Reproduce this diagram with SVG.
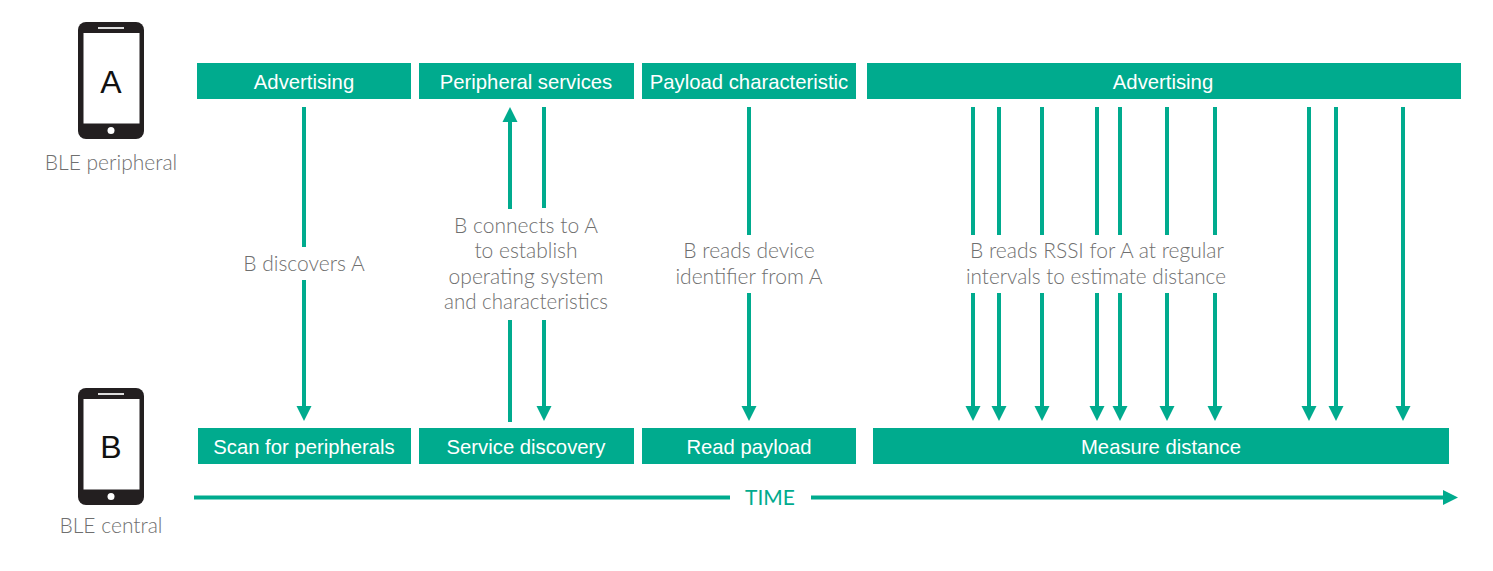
<svg xmlns="http://www.w3.org/2000/svg" width="1493" height="571" viewBox="0 0 1493 571">
<style>
.box{fill:#00ab8e}
.bt{font:20.300px "Liberation Sans",Arial,sans-serif;fill:#fff;text-anchor:middle}
.lb{font:300 21px Lato,"Open Sans",sans-serif;fill:#6f6f6f;text-anchor:middle}
.ln{stroke:#00ab8e;stroke-width:4;fill:none}
.dev{fill:#231f20}
.dt{font:32px "Liberation Sans",Arial,sans-serif;fill:#111;text-anchor:middle}
</style>
<defs>
<g id="phone">
<rect x="78" y="22" width="66" height="117" rx="8" class="dev"/>
<rect x="83.500" y="33" width="56" height="90.500" fill="#fff"/>
<rect x="98" y="27" width="26" height="2" fill="#ddd"/>
<circle cx="111" cy="130.500" r="3.500" fill="#fff"/>
</g>
<marker id="ah" markerUnits="userSpaceOnUse" markerWidth="17" markerHeight="17" refX="5" refY="8" orient="auto">
<path d="M0 0.500L15 8L0 15.500Z" fill="#00ab8e"/>
</marker>
</defs>
<g id="device-a"><use href="#phone"/><text class="dt" x="111" y="93">A</text><text class="lb" x="111" y="170">BLE peripheral</text></g>
<g id="device-b"><use href="#phone" y="366"/><text class="dt" x="111" y="458">B</text><text class="lb" x="111" y="533">BLE central</text></g>
<g id="a-advertising"><rect class="box" x="197" y="63" width="214" height="36"/><text class="bt" x="304" y="89">Advertising</text></g>
<g id="a-services"><rect class="box" x="419" y="63" width="215" height="36"/><text class="bt" x="526" y="89">Peripheral services</text></g>
<g id="a-payload"><rect class="box" x="642" y="63" width="214" height="36"/><text class="bt" x="749" y="89">Payload characteristic</text></g>
<g id="a-advertising2"><rect class="box" x="867" y="63" width="594" height="36"/><text class="bt" x="1163" y="89">Advertising</text></g>
<g id="b-scan"><rect class="box" x="198" y="428" width="213" height="36"/><text class="bt" x="304" y="454">Scan for peripherals</text></g>
<g id="b-discovery"><rect class="box" x="419" y="428" width="215" height="36"/><text class="bt" x="526" y="454">Service discovery</text></g>
<g id="b-read"><rect class="box" x="642" y="428" width="214" height="36"/><text class="bt" x="749" y="454">Read payload</text></g>
<g id="b-measure"><rect class="box" x="873" y="428" width="576" height="36"/><text class="bt" x="1161" y="454">Measure distance</text></g>
<g id="connectors">
<path class="ln" d="M304 107V247"/><path class="ln" d="M304 280V411" marker-end="url(#ah)"/>
<path class="ln" d="M510 422V320"/><path class="ln" d="M510 209V117" marker-end="url(#ah)"/>
<path class="ln" d="M544 107V208"/><path class="ln" d="M544 320V411" marker-end="url(#ah)"/>
<path class="ln" d="M749 107V235"/><path class="ln" d="M749 293V411" marker-end="url(#ah)"/>
<path class="ln" d="M973 107V235"/><path class="ln" d="M973 293V411" marker-end="url(#ah)"/>
<path class="ln" d="M999 107V235"/><path class="ln" d="M999 293V411" marker-end="url(#ah)"/>
<path class="ln" d="M1042 107V235"/><path class="ln" d="M1042 293V411" marker-end="url(#ah)"/>
<path class="ln" d="M1097 107V235"/><path class="ln" d="M1097 293V411" marker-end="url(#ah)"/>
<path class="ln" d="M1120 107V235"/><path class="ln" d="M1120 293V411" marker-end="url(#ah)"/>
<path class="ln" d="M1167 107V235"/><path class="ln" d="M1167 293V411" marker-end="url(#ah)"/>
<path class="ln" d="M1215 107V235"/><path class="ln" d="M1215 293V411" marker-end="url(#ah)"/>
<path class="ln" d="M1309 107V411" marker-end="url(#ah)"/>
<path class="ln" d="M1336 107V411" marker-end="url(#ah)"/>
<path class="ln" d="M1403 107V411" marker-end="url(#ah)"/>
<path class="ln" d="M194 497.500H730"/>
<path class="ln" d="M811 497.500H1448" marker-end="url(#ah)"/>
</g>
<g id="labels">
<text class="lb" x="304" y="271">B discovers A</text>
<text class="lb" x="526" y="233">B connects to A</text>
<text class="lb" x="526" y="258">to establish</text>
<text class="lb" x="526" y="284">operating system</text>
<text class="lb" x="526" y="309" textLength="164" lengthAdjust="spacingAndGlyphs">and characteristics</text>
<text class="lb" x="749" y="258">B reads device</text>
<text class="lb" x="749" y="284">identifier from A</text>
<text class="lb" x="1097" y="258">B reads RSSI for A at regular</text>
<text class="lb" x="1096" y="284" textLength="260" lengthAdjust="spacingAndGlyphs">intervals to estimate distance</text>
<text x="770" y="505" style="font:21px Lato,sans-serif;fill:#00ab8e;text-anchor:middle">TIME</text>
</g>
</svg>
